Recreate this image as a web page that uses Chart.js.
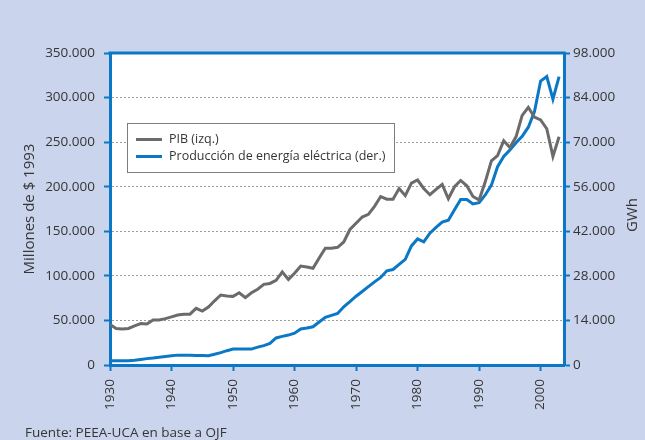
<!DOCTYPE html>
<html>
<head>
<meta charset="utf-8">
<script src="https://cdn.jsdelivr.net/npm/chart.js@4.4.0/dist/chart.umd.min.js"></script>
<style>
    html, body { margin: 0; padding: 0; background: #cad4ec; }
    #wrap { width: 645px; height: 440px; }
</style>
</head>
<body>
<div id="wrap"><canvas id="chart" width="645" height="440"></canvas></div>
<script>
// Años (1930-2003)
const years = [1930, 1931, 1932, 1933, 1934, 1935, 1936, 1937, 1938, 1939,
    1940, 1941, 1942, 1943, 1944, 1945, 1946, 1947, 1948, 1949,
    1950, 1951, 1952, 1953, 1954, 1955, 1956, 1957, 1958, 1959,
    1960, 1961, 1962, 1963, 1964, 1965, 1966, 1967, 1968, 1969,
    1970, 1971, 1972, 1973, 1974, 1975, 1976, 1977, 1978, 1979,
    1980, 1981, 1982, 1983, 1984, 1985, 1986, 1987, 1988, 1989,
    1990, 1991, 1992, 1993, 1994, 1995, 1996, 1997, 1998, 1999,
    2000, 2001, 2002, 2003];

// PIB, millones de $ 1993 (eje izq.)
const pib = [45500, 41000, 40500, 41000, 44000, 46500, 46000, 50500, 50500, 52000,
    54000, 56000, 57000, 57000, 63500, 60500, 65000, 72000, 78500, 77500,
    77000, 81000, 75500, 81000, 85000, 90500, 91500, 95000, 104500, 96000,
    103000, 111000, 110000, 108500, 120000, 131000, 131000, 132000, 138000, 152000,
    159000, 166000, 169000, 178000, 189000, 186000, 186000, 198000, 190000, 204000,
    207500, 198000, 191000, 197000, 202500, 186500, 200000, 207000, 201000, 189000,
    185000, 205500, 229000, 235000, 251500, 244000, 256000, 280000, 289000, 278000,
    275000, 265000, 234000, 256000];

// Producción de energía eléctrica, GWh (eje der.)
const energia = [1300, 1300, 1300, 1300, 1500, 1750, 2000, 2200, 2450, 2700,
    2900, 3100, 3100, 3050, 3000, 2950, 2900, 3400, 3900, 4500,
    5000, 5000, 5000, 5000, 5600, 6100, 6800, 8500, 9000, 9400,
    10000, 11300, 11600, 12000, 13500, 15000, 15600, 16200, 18300, 19900,
    21600, 23100, 24600, 26100, 27500, 29600, 30000, 31600, 33200, 37400,
    39600, 38700, 41400, 43200, 44900, 45500, 48800, 52000, 52000, 50600,
    51000, 53400, 56500, 62300, 65500, 67500, 69800, 71800, 74700, 79600,
    89200, 90600, 83500, 90600];

const xTicks = [1930, 1940, 1950, 1960, 1970, 1980, 1990, 2000];

const BLUE = '#0a78c6';
const GREY = '#6b6b6b';
const TEXT = '#353535';
const FONT = '"Open Sans", sans-serif';

function miles(v) {
    return String(v).replace(/\B(?=(\d{3})+(?!\d))/g, '.');
}

const background = {
    id: 'background',
    beforeDraw(chart) {
        const { ctx, chartArea: a } = chart;
        ctx.save();
        ctx.fillStyle = '#cad4ec';
        ctx.fillRect(0, 0, chart.width, chart.height);
        ctx.fillStyle = '#ffffff';
        ctx.fillRect(a.left, a.top, a.right - a.left, a.bottom - a.top);
        ctx.restore();
    }
};

const extras = {
    id: 'extras',
    afterDraw(chart) {
        const { ctx, chartArea: a } = chart;
        ctx.save();
        // borde superior
        ctx.strokeStyle = BLUE;
        ctx.lineWidth = 3;
        ctx.beginPath();
        ctx.moveTo(a.left - 1.5, a.top);
        ctx.lineTo(a.right + 1.5, a.top);
        ctx.stroke();

        // leyenda
        ctx.fillStyle = '#ffffff';
        ctx.fillRect(127, 123, 267, 49);
        ctx.strokeStyle = '#7d7d7d';
        ctx.lineWidth = 1;
        ctx.strokeRect(127.5, 123.5, 267, 49);
        ctx.font = '12.5px ' + FONT;
        ctx.textBaseline = 'middle';
        chart.data.datasets.forEach((ds, i) => {
            const y = 139.5 + i * 17;
            ctx.strokeStyle = ds.borderColor;
            ctx.lineWidth = 3;
            ctx.beginPath();
            ctx.moveTo(136, y);
            ctx.lineTo(162, y);
            ctx.stroke();
            ctx.fillStyle = TEXT;
            ctx.fillText(ds.label, 169, y);
        });

        // título eje derecho
        ctx.save();
        ctx.translate(633, 215);
        ctx.rotate(-Math.PI / 2);
        ctx.font = '15px ' + FONT;
        ctx.textAlign = 'center';
        ctx.textBaseline = 'middle';
        ctx.fillStyle = TEXT;
        ctx.fillText('GWh', 0, 0);
        ctx.restore();

        // fuente
        ctx.font = '13.5px ' + FONT;
        ctx.textBaseline = 'alphabetic';
        ctx.textAlign = 'left';
        ctx.fillStyle = TEXT;
        ctx.fillText('Fuente: PEEA-UCA en base a OJF', 25, 437);
        ctx.restore();
    }
};

new Chart(document.getElementById('chart'), {
    type: 'line',
    data: {
        datasets: [{
            label: 'PIB (izq.)',
            data: years.map((y, i) => ({ x: y, y: pib[i] })),
            borderColor: GREY,
            borderWidth: 3,
            pointRadius: 0,
            yAxisID: 'y'
        }, {
            label: 'Producción de energía eléctrica (der.)',
            data: years.map((y, i) => ({ x: y, y: energia[i] })),
            borderColor: BLUE,
            borderWidth: 3,
            pointRadius: 0,
            yAxisID: 'y1'
        }]
    },
    options: {
        responsive: false,
        animation: false,
        devicePixelRatio: 1,
        layout: { padding: { top: 53, left: 0, right: 0, bottom: 0 } },
        plugins: {
            legend: { display: false },
            tooltip: { enabled: false }
        },
        scales: {
            x: {
                type: 'linear',
                min: 1930,
                max: 2003.8,
                afterBuildTicks: s => { s.ticks = xTicks.map(v => ({ value: v })); },
                afterFit: s => { s.height = 75; },
                grid: { drawOnChartArea: false, tickColor: BLUE, tickLength: 6, tickWidth: 2 },
                border: { color: BLUE, width: 3 },
                ticks: {
                    minRotation: 90, maxRotation: 90, autoSkip: false, padding: 8,
                    color: TEXT, font: { family: FONT, size: 13.5 },
                    callback: v => String(v)
                }
            },
            y: {
                position: 'left',
                min: 0,
                max: 350000,
                afterFit: s => { s.width = 110; },
                grid: {
                    color: c => (c.tick && (c.tick.value === 0 || c.tick.value === 350000)) ? 'rgba(0,0,0,0)' : '#9c9c9c',
                    lineWidth: 1,
                    tickColor: BLUE, tickLength: 6, tickWidth: 2
                },
                border: { color: BLUE, width: 3, dash: [2, 2] },
                ticks: {
                    stepSize: 50000, padding: 9,
                    color: TEXT, font: { family: FONT, size: 13.5 },
                    callback: v => miles(v)
                },
                title: {
                    display: true, text: 'Millones de $ 1993',
                    color: TEXT, font: { family: FONT, size: 15 },
                    padding: { top: 21, bottom: 0 }
                }
            },
            y1: {
                position: 'right',
                min: 0,
                max: 98000,
                afterFit: s => { s.width = 81; },
                grid: { drawOnChartArea: false, tickColor: BLUE, tickLength: 6, tickWidth: 2 },
                border: { color: BLUE, width: 3 },
                ticks: {
                    stepSize: 14000, padding: 3,
                    color: TEXT, font: { family: FONT, size: 13.5 },
                    callback: v => miles(v)
                }
            }
        }
    },
    plugins: [background, extras]
});
</script>
</body>
</html>
